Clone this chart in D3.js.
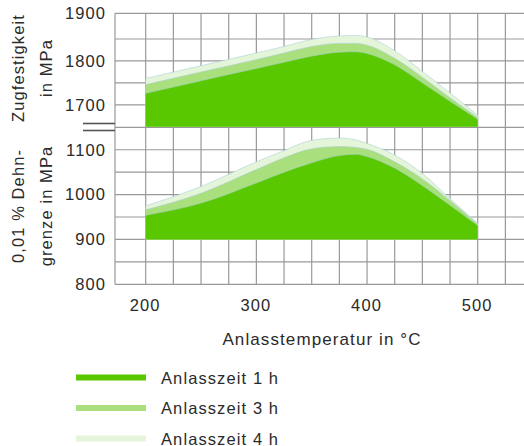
<!DOCTYPE html>
<html><head><meta charset="utf-8">
<script src="https://cdn.jsdelivr.net/npm/d3@7"></script>
<style>
body{margin:0;background:#fff;}
text{font-family:"Liberation Sans",Arial,sans-serif;fill:#2a2a2a;letter-spacing:1.1px;}
</style></head><body>
<svg id="c" width="524" height="446"></svg>
<script>
// ---- data ----
const temps = [200, 250, 300, 325, 350, 375, 390, 400, 425, 450, 475, 500];
const tensile1h = [1726, 1755, 1783, 1797, 1811, 1820, 1821, 1817, 1791, 1750, 1708, 1667];
const tensile3h = [1746, 1775, 1803, 1818, 1833, 1840, 1840, 1836, 1806, 1763, 1716, 1671];
const tensile4h = [1760, 1789, 1818, 1833, 1849, 1856, 1857, 1854, 1823, 1776, 1727, 1676];
const yield1h = [954, 981, 1026, 1050, 1071, 1087, 1090, 1085, 1059, 1020, 976, 931];
const yield3h = [966, 1003, 1056, 1082, 1102, 1107, 1105, 1101, 1073, 1035, 987, 934];
const yield4h = [975, 1018, 1073, 1098, 1121, 1126, 1122, 1114, 1088, 1047, 991, 936];
const seriesNames = ["Anlasszeit 1 h", "Anlasszeit 3 h", "Anlasszeit 4 h"];
const seriesColors = ["#5ac800", "#aadf7e", "#e4f5d9"];
const xTicks = [200, 300, 400, 500];
const upperTicks = [1700, 1800, 1900];
const lowerTicks = [800, 900, 1000, 1100];
const upperTitle = ["Zugfestigkeit", "in MPa"];
const lowerTitle = ["0,01 % Dehn-", "grenze in MPa"];
const xTitle = "Anlasstemperatur in °C";

// ---- scales ----
const svg = d3.select("#c");
const x = d3.scaleLinear().domain([200, 500]).range([145.7, 477.7]);
const yU = d3.scaleLinear().domain([1650, 1850, 1900]).range([126.7, 39, 13.3]);
const yL = d3.scaleLinear().domain([800, 1150]).range([284.3, 127.3]);
const left = 115, right = 524;

// ---- grid ----
const grid = svg.append("g").attr("stroke", "#999").attr("stroke-width", 1.2);
const vx = d3.range(200, 526, 25);
grid.selectAll(".v").data(vx).join("line")
  .attr("x1", d => x(d)).attr("x2", d => x(d))
  .attr("y1", yU(1900)).attr("y2", yL(800));
const hu = d3.range(1700, 1901, 50);
grid.selectAll(".hu").data(hu).join("line")
  .attr("x1", left).attr("x2", right)
  .attr("y1", d => yU(d)).attr("y2", d => yU(d));
const hl = d3.range(800, 1151, 50);
grid.selectAll(".hl").data(hl).join("line")
  .attr("x1", left).attr("x2", right)
  .attr("y1", d => yL(d)).attr("y2", d => yL(d));
grid.append("line").attr("x1", left).attr("x2", left).attr("y1", yU(1900)).attr("y2", yL(800));

// ---- areas ----
function drawPanel(ys, base, seriesArr) {
  const g = svg.append("g");
  for (let i = seriesArr.length - 1; i >= 0; i--) {
    const pts = temps.map((t, j) => [t, seriesArr[i][j]]);
    const area = d3.area().curve(d3.curveMonotoneX)
      .x(d => x(d[0])).y0(ys(base)).y1(d => ys(d[1]));
    const line = d3.line().curve(d3.curveMonotoneX)
      .x(d => x(d[0])).y(d => ys(d[1]));
    g.append("path").attr("d", area(pts)).attr("fill", seriesColors[i]);
    g.append("path").attr("d", line(pts)).attr("fill", "none")
      .attr("stroke", "#a9cfd8").attr("stroke-width", 0.7).attr("stroke-opacity", 0.8);
  }
}
drawPanel(yU, 1650, [tensile1h, tensile3h, tensile4h]);
drawPanel(yL, 900, [yield1h, yield3h, yield4h]);

// ---- break marks ----
svg.append("g").attr("stroke", "#555").attr("stroke-width", 1.6)
  .selectAll("line").data([123.5, 130.5]).join("line")
  .attr("x1", 83).attr("x2", left).attr("y1", d => d).attr("y2", d => d);

// ---- axes labels ----
const fs = "16.5px";
const ax = svg.append("g").attr("transform", `translate(${left - 6},0)`)
  .call(d3.axisLeft(yU).tickValues(upperTicks).tickSize(0).tickFormat(d3.format("d")));
ax.select(".domain").remove();
ax.attr("font-family", null);
ax.selectAll("text").attr("font-size", fs).attr("fill", "#2a2a2a");
const ax2 = svg.append("g").attr("transform", `translate(${left - 6},0)`)
  .call(d3.axisLeft(yL).tickValues(lowerTicks).tickSize(0).tickFormat(d3.format("d")));
ax2.select(".domain").remove();
ax2.attr("font-family", null);
ax2.selectAll("text").attr("font-size", fs).attr("fill", "#2a2a2a");

const axb = svg.append("g").attr("transform", `translate(-1,${yL(800) + 12})`)
  .call(d3.axisBottom(x).tickValues(xTicks).tickSize(0).tickFormat(d3.format("d")));
axb.select(".domain").remove();
axb.attr("font-family", null);
axb.selectAll("text").attr("font-size", fs).attr("fill", "#2a2a2a");

svg.append("text").attr("x", 322).attr("y", 345).attr("text-anchor", "middle")
  .attr("font-size", "17px").text(xTitle);

function yTitle(lines, cy) {
  const xs = [18, 45.5];
  lines.forEach((t, i) => {
    svg.append("text").attr("transform", `translate(${xs[i]},${cy}) rotate(-90)`)
      .attr("text-anchor", "middle").attr("dominant-baseline", "central")
      .attr("font-size", fs).text(t);
  });
}
yTitle(upperTitle, 68);
yTitle(lowerTitle, 206);

// ---- legend ----
const legY = [377.5, 408, 438.5];
const leg = svg.append("g");
seriesNames.forEach((n, i) => {
  leg.append("line").attr("x1", 76).attr("x2", 146).attr("y1", legY[i]).attr("y2", legY[i])
    .attr("stroke", seriesColors[i]).attr("stroke-width", 6);
  leg.append("text").attr("x", 161).attr("y", legY[i]).attr("dominant-baseline", "central")
    .attr("font-size", fs).text(n);
});
</script></body></html>
